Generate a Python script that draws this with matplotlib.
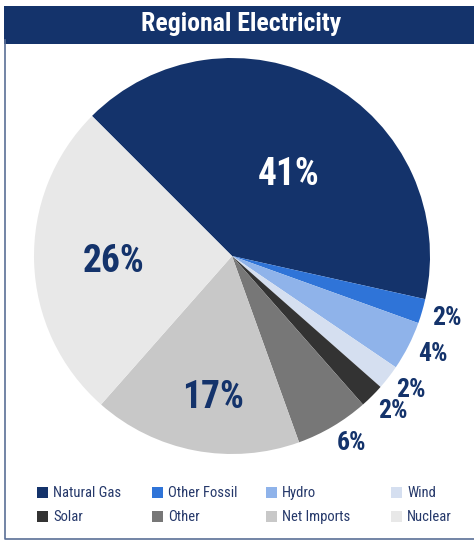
import numpy as np
import matplotlib.pyplot as plt
from matplotlib.patches import Rectangle
from matplotlib.lines import Line2D

# Generation mix (percent of total)
sources = ['Natural Gas', 'Other Fossil', 'Hydro', 'Wind',
           'Solar', 'Other', 'Net Imports', 'Nuclear']
shares = [41, 2, 4, 2, 2, 6, 17, 26]
colors = ['#14336b', '#2f74d8', '#8fb3ea', '#d5dff0',
          '#333333', '#777777', '#c8c8c8', '#e8e8e8']
label_colors = ['white', '#14336b', '#14336b', '#14336b',
                '#14336b', '#14336b', '#14336b', '#14336b']
# where each percentage sits: fraction of radius, and nudge in degrees
label_radius = [0.50, 1.13, 1.13, 1.13, 1.13, 1.12, 0.72, 0.6]
label_nudge = [-6, 0, 1, 1, 1, 2, 3, 1]
label_size = [27, 18.5, 18.5, 18.5, 18.5, 18.5, 27, 27]

navy = '#14336b'
narrow = ['Roboto Condensed', 'Liberation Sans Narrow', 'Roboto', 'DejaVu Sans']

W, H = 474, 540
fig = plt.figure(figsize=(W / 100, H / 100), dpi=100)

# frame (left and bottom rules) and title banner
fig.add_artist(Line2D([4.5 / W, 4.5 / W, 1], [1 - 40 / H, 1.5 / H, 1.5 / H],
                      transform=fig.transFigure, color='#5a6f96', linewidth=1.2))
fig.add_artist(Rectangle((4 / W, (H - 44) / H), (W - 4) / W, 38 / H,
                         transform=fig.transFigure, facecolor=navy,
                         edgecolor='none'))
fig.text(241 / W, 1 - 24 / H, 'Regional Electricity', color='white',
         fontsize=18.5, fontweight='bold', family=narrow,
         ha='center', va='center')

# pie
cx, cy, r = 232, 256, 198
ax = fig.add_axes([(cx - r) / W, (H - cy - r) / H, 2 * r / W, 2 * r / H])
wedges, _ = ax.pie(shares, colors=colors, startangle=135, counterclock=False,
                   wedgeprops=dict(linewidth=0))
ax.set_xlim(-1, 1)
ax.set_ylim(-1, 1)
ax.axis('off')

for w, val, rad, nud, c, fs in zip(wedges, shares, label_radius, label_nudge,
                                   label_colors, label_size):
    ang = np.deg2rad((w.theta1 + w.theta2) / 2 + nud)
    ax.text(rad * np.cos(ang), rad * np.sin(ang), f'{val}%', color=c,
            fontsize=fs, fontweight='bold', family=narrow,
            ha='center', va='center')

# legend, 4 columns x 2 rows
col_x = [37, 152, 266, 391]
row_y = [493, 517]
for i, (name, col) in enumerate(zip(sources, colors)):
    x = col_x[i % 4]
    y = row_y[i // 4]
    fig.add_artist(Rectangle((x / W, (H - y - 5) / H), 11 / W, 11 / H,
                             transform=fig.transFigure, facecolor=col,
                             edgecolor='none'))
    fig.text((x + 16) / W, 1 - y / H, name, color='#25386a', fontsize=10.5,
             family=narrow, ha='left', va='center')

fig.savefig('out.png', dpi=100)
